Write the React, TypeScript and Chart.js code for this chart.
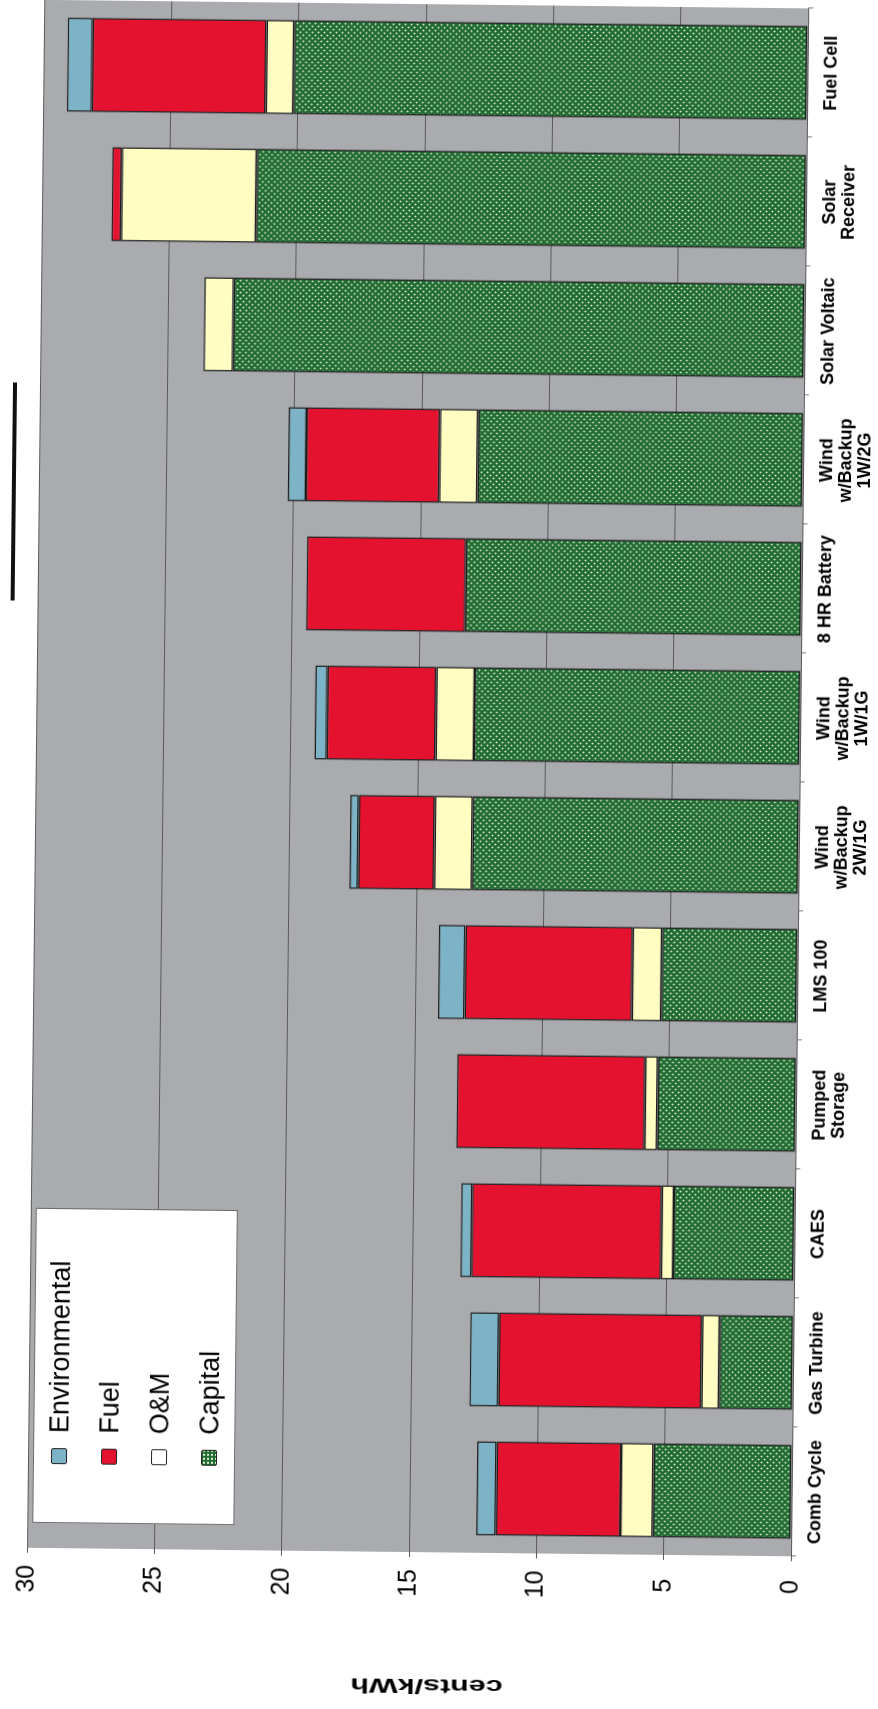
import { useEffect, useRef } from 'react';
import { Chart, registerables } from 'chart.js';

Chart.register(...registerables);

// ---- data (bottom category first) ----
const categories: string[][] = [
  ['Comb Cycle'],
  ['Gas Turbine'],
  ['CAES'],
  ['Pumped', 'Storage'],
  ['LMS 100'],
  ['Wind', 'w/Backup', '2W/1G'],
  ['Wind', 'w/Backup', '1W/1G'],
  ['8 HR Battery'],
  ['Wind', 'w/Backup', '1W/2G'],
  ['Solar Voltaic'],
  ['Solar', 'Receiver'],
  ['Fuel Cell'],
];
const capital = [5.44, 2.9, 4.75, 5.44, 5.33, 12.82, 12.8, 13.2, 12.78, 22.43, 21.59, 20.17];
const om = [1.27, 0.69, 0.48, 0.5, 1.16, 1.49, 1.51, 0, 1.5, 1.16, 5.3, 1.09];
const fuel = [4.89, 7.97, 7.44, 7.38, 6.57, 2.99, 4.27, 6.25, 5.24, 0, 0.37, 6.83];
const environmental = [0.77, 1.13, 0.44, 0, 1.04, 0.33, 0.48, 0, 0.7, 0, 0, 0.98];
const valueMin = 0;
const valueMax = 30;
const valueStep = 5;
const axisTitle = 'cents/kWh';
const legendLabels = ['Environmental', 'Fuel', 'O&M', 'Capital'];

const FONT = '"Liberation Sans", Arial, Helvetica, sans-serif';
const COLORS: Record<string, string> = {
  Environmental: '#7DB3C6',
  Fuel: '#E5122F',
  'O&M': '#FFFDC2',
  Capital: '#1F6B30',
};

function makeCapitalPattern(ctx: CanvasRenderingContext2D): CanvasPattern | string {
  const c = document.createElement('canvas');
  c.width = 6;
  c.height = 6;
  const p = c.getContext('2d');
  if (!p) return COLORS.Capital;
  p.fillStyle = COLORS.Capital;
  p.fillRect(0, 0, 6, 6);
  p.fillStyle = '#E3F0DA';
  p.beginPath();
  p.arc(1.5, 1.5, 0.9, 0, Math.PI * 2);
  p.fill();
  p.beginPath();
  p.arc(4.5, 4.5, 0.9, 0, Math.PI * 2);
  p.fill();
  return ctx.createPattern(c, 'repeat') || COLORS.Capital;
}

const CW = 1709;
const CH = 878;

export default function App() {
  const ref = useRef<HTMLCanvasElement | null>(null);

  useEffect(() => {
    document.documentElement.style.overflow = 'hidden';
    document.body.style.overflow = 'hidden';
    const canvas = ref.current;
    if (!canvas) return;
    const ctx = canvas.getContext('2d');
    if (!ctx) return;
    const pattern = makeCapitalPattern(ctx);

    const common = {
      barPercentage: 0.73,
      categoryPercentage: 1,
      borderColor: '#1b1b1b',
      borderWidth: 1.5,
      borderSkipped: false as const,
    };

    const bgPlugin = {
      id: 'bgPlugin',
      beforeDraw(chart: any) {
        const c = chart.ctx;
        const a = chart.chartArea;
        c.save();
        c.fillStyle = '#ffffff';
        c.fillRect(0, 0, chart.width, chart.height);
        c.fillStyle = '#A9ABAE';
        c.fillRect(a.left, a.top, a.right - a.left, a.bottom - a.top);
        c.restore();
      },
      afterDraw(chart: any) {
        const c = chart.ctx;
        const a = chart.chartArea;
        c.save();
        c.translate(24.5, (a.top + a.bottom) / 2 + 19);
        c.rotate(-Math.PI / 2);
        c.scale(1.45, 1);
        c.font = `bold 21px ${FONT}`;
        c.fillStyle = '#000';
        c.textAlign = 'center';
        c.textBaseline = 'middle';
        c.fillText(axisTitle, 0, 0);
        c.restore();
      },
    };

    const chart = new Chart(canvas, {
      type: 'bar',
      data: {
        labels: categories,
        datasets: [
          { label: 'Capital', data: capital, backgroundColor: pattern as any, ...common },
          { label: 'O&M', data: om, backgroundColor: COLORS['O&M'], ...common },
          { label: 'Fuel', data: fuel, backgroundColor: COLORS.Fuel, ...common },
          { label: 'Environmental', data: environmental, backgroundColor: COLORS.Environmental, ...common },
        ],
      },
      options: {
        responsive: false,
        animation: false,
        devicePixelRatio: 1,
        layout: { padding: { top: 20, right: 4, left: 0, bottom: 0 } },
        plugins: { legend: { display: false }, tooltip: { enabled: false } },
        scales: {
          x: {
            stacked: true,
            offset: true,
            border: { display: false },
            grid: { offset: true, drawOnChartArea: false, tickLength: 5, color: '#7a7a7a' },
            ticks: {
              color: '#000',
              autoSkip: false,
              maxRotation: 0,
              minRotation: 0,
              padding: 9,
              font: { family: FONT, size: 18, weight: 'bold', lineHeight: 1.06 },
            },
            afterFit: (s: any) => {
              s.height = 87;
            },
          },
          y: {
            stacked: true,
            min: valueMin,
            max: valueMax,
            border: { display: false },
            grid: { color: '#5a5a5a', lineWidth: 1, tickLength: 5 },
            ticks: {
              stepSize: valueStep,
              color: '#000',
              padding: 12,
              crossAlign: 'center',
              font: { family: FONT, size: 25 },
            },
            afterFit: (s: any) => {
              s.width = 157;
            },
          },
        },
      },
      plugins: [bgPlugin],
    });
    return () => chart.destroy();
  }, []);

  const rowTops = [12, 62, 112, 162];

  return (
    <div
      style={{
        position: 'absolute',
        left: 0,
        top: 0,
        width: 878,
        height: 1709,
        transform: 'rotate(0.64deg)',
        transformOrigin: '405px 1552px',
      }}
    >
      <div
        style={{
          position: 'absolute',
          left: 0,
          top: 0,
          width: CW,
          height: CH,
          transformOrigin: '0 0',
          transform: `translate(0px, ${CW}px) rotate(-90deg)`,
        }}
      >
        <canvas ref={ref} width={CW} height={CH} style={{ width: CW, height: CH, display: 'block' }} />
        <div
          style={{
            position: 'absolute',
            left: 182,
            top: 32,
            width: 315,
            height: 202,
            background: '#fff',
            border: '1px solid #6f6f6f',
            boxSizing: 'border-box',
            fontFamily: FONT,
          }}
        >
          {legendLabels.map((name, i) => (
            <div
              key={name}
              style={{
                position: 'absolute',
                left: 0,
                top: rowTops[i],
                height: 27,
                width: '100%',
              }}
            >
              <div
                style={{
                  position: 'absolute',
                  left: 58,
                  top: 5,
                  width: 16,
                  height: 16,
                  boxSizing: 'border-box',
                  border: '1.5px solid #222',
                  borderRadius: 2,
                  background:
                    name === 'Capital'
                      ? 'radial-gradient(circle, #E3F0DA 0.8px, transparent 1.1px) 0 0 / 4px 4px, #1F6B30'
                      : name === 'O&M'
                      ? '#ffffff'
                      : COLORS[name],
                }}
              />
              <div
                style={{
                  position: 'absolute',
                  left: 89,
                  top: 0,
                  fontSize: 27,
                  lineHeight: '27px',
                  color: '#000',
                  whiteSpace: 'nowrap',
                }}
              >
                {name}
              </div>
            </div>
          ))}
        </div>
      </div>
      <div style={{ position: 'absolute', left: 0, top: 387, width: 4, height: 218, background: '#111' }} />
    </div>
  );
}
